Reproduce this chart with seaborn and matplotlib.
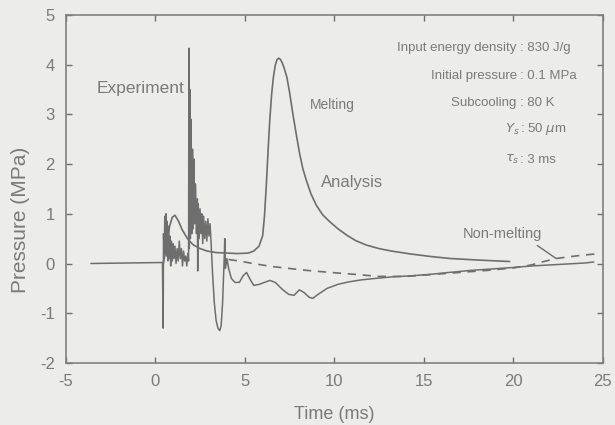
import matplotlib
matplotlib.use("Agg")
import matplotlib.pyplot as plt
import seaborn as sns
import pandas as pd

# Measured pressure trace (experiment)
exp_time = [-3.6, 0.40, 0.44, 0.46, 0.50, 0.53, 0.56, 0.60, 0.63, 0.66, 0.70, 0.74,
            0.78, 0.82, 0.86, 0.90, 0.95, 1.00, 1.05, 1.10, 1.16, 1.22, 1.28, 1.34,
            1.40, 1.46, 1.52, 1.58, 1.64, 1.70, 1.76, 1.82, 1.86, 1.88, 1.90, 1.93,
            1.96, 2.00, 2.04, 2.08, 2.12, 2.16, 2.20, 2.25, 2.30, 2.35, 2.37, 2.40,
            2.45, 2.50, 2.55, 2.60, 2.65, 2.70, 2.76, 2.82, 2.88, 2.94, 3.00, 3.06,
            3.12, 3.20, 3.30, 3.40, 3.50, 3.60, 3.68, 3.76, 3.82, 3.86, 3.88, 3.92,
            4.00, 4.10, 4.25, 4.45, 4.70, 4.90, 5.10, 5.30, 5.50, 5.80, 6.10, 6.40,
            6.70, 7.10, 7.45, 7.75, 8.05, 8.30, 8.60, 8.80, 9.10, 9.60, 10.2, 10.8,
            11.5, 12.3, 13.2, 14.2, 15.3, 16.4, 17.6, 18.8, 20.0, 21.0, 22.0, 23.0,
            24.0, 24.5]
exp_pressure = [0.00, 0.02, -1.30, 0.60, 0.10, 0.95, 0.20, 1.00, 0.15, 0.85, 0.05, 0.75,
                0.10, 0.55, -0.05, 0.45, 0.05, 0.40, 0.10, 0.35, 0.00, 0.30, 0.05, 0.45,
                0.10, 0.30, -0.05, 0.25, 0.05, 0.15, -0.05, 0.20, 0.05, 4.33, 0.30, 3.50,
                0.50, 2.90, 0.60, 2.30, 0.70, 2.10, 0.80, 1.60, 0.60, 1.30, -0.15, 1.20,
                0.50, 1.10, 0.60, 1.00, 0.40, 0.95, 0.50, 0.85, 0.45, 0.90, 0.55, 0.80,
                0.40, -0.20, -0.80, -1.15, -1.30, -1.35, -1.25, -0.80, -0.20, 0.20, 0.50, -0.10,
                0.10, -0.10, -0.30, -0.38, -0.38, -0.25, -0.18, -0.32, -0.44, -0.42, -0.38, -0.34,
                -0.38, -0.52, -0.62, -0.64, -0.53, -0.58, -0.68, -0.70, -0.62, -0.50, -0.42, -0.37,
                -0.33, -0.30, -0.27, -0.25, -0.22, -0.18, -0.14, -0.11, -0.08, -0.05, -0.03, -0.01,
                0.01, 0.03]

# Analysis with melting
melt_time = [0.45, 0.60, 0.80, 0.95, 1.10, 1.30, 1.50, 1.80, 2.10, 2.50, 2.90, 3.40,
             4.00, 4.60, 5.20, 5.50, 5.80, 6.00, 6.10, 6.20, 6.30, 6.40, 6.50, 6.60,
             6.70, 6.80, 6.90, 7.00, 7.10, 7.20, 7.35, 7.50, 7.70, 7.90, 8.07, 8.25,
             8.46, 8.70, 9.00, 9.35, 9.75, 10.2, 10.7, 11.2, 11.8, 12.5, 13.2, 14.3,
             15.4, 16.5, 18.0, 19.8]
melt_pressure = [0.00, 0.30, 0.75, 0.93, 0.97, 0.85, 0.68, 0.50, 0.38, 0.30, 0.25, 0.22,
                 0.21, 0.20, 0.21, 0.25, 0.35, 0.56, 0.95, 1.55, 2.25, 2.90, 3.40, 3.75,
                 3.98, 4.10, 4.13, 4.10, 4.03, 3.93, 3.75, 3.45, 2.98, 2.55, 2.20, 1.90,
                 1.65, 1.40, 1.17, 0.98, 0.84, 0.70, 0.57, 0.46, 0.37, 0.30, 0.25, 0.19,
                 0.14, 0.10, 0.07, 0.04]

# Analysis without melting
nonmelt_time = [4.1, 4.7, 5.45, 6.5, 7.5, 8.5, 9.8, 11.2, 12.5, 14.0, 15.5, 17.0,
                18.5, 20.0, 21.0, 21.6, 22.4, 23.0, 23.7, 24.8]
nonmelt_pressure = [0.08, 0.05, 0.00, -0.06, -0.10, -0.14, -0.18, -0.22, -0.26, -0.26, -0.22, -0.18,
                    -0.14, -0.09, -0.03, 0.03, 0.10, 0.13, 0.16, 0.20]

# Test conditions
cond_names = ["Input energy density", "Initial pressure", "Subcooling",
              r"$Y_s$", r"$\tau_s$"]
cond_values = ["830 J/g", "0.1 MPa", "80 K", r"50 $\mu$m", "3 ms"]

x_ticks = [-5, 0, 5, 10, 15, 20, 25]
y_ticks = [-2, -1, 0, 1, 2, 3, 4, 5]

sns.set_theme(style="ticks")
plt.rcParams["font.family"] = ["Liberation Sans", "DejaVu Sans"]
plt.rcParams["mathtext.fontset"] = "dejavusans"

bg = "#ececea"
ink = "#6e6e6e"
txt = "#7a7a7a"

fig = plt.figure(figsize=(6.15, 4.25), dpi=100, facecolor=bg)
ax = fig.add_axes([0.107, 0.146, 0.873, 0.819], facecolor=bg)

df_exp = pd.DataFrame({"t": exp_time, "p": exp_pressure})
df_melt = pd.DataFrame({"t": melt_time, "p": melt_pressure})
df_non = pd.DataFrame({"t": nonmelt_time, "p": nonmelt_pressure})

sns.lineplot(data=df_exp, x="t", y="p", ax=ax, sort=False, estimator=None,
             color=ink, lw=1.1)
sns.lineplot(data=df_melt, x="t", y="p", ax=ax, sort=False, estimator=None,
             color=ink, lw=1.2)
sns.lineplot(data=df_non, x="t", y="p", ax=ax, sort=False, estimator=None,
             color=ink, lw=1.2, dashes=False, linestyle=(0, (5, 4)))

ax.set_xlim(-5, 25)
ax.set_ylim(-2, 5)
ax.set_xticks(x_ticks)
ax.set_yticks(y_ticks)
ax.set_xticklabels([str(v) for v in x_ticks])
ax.set_yticklabels([str(v) for v in y_ticks])
ax.tick_params(direction="in", length=4, width=1, colors=ink, labelcolor=txt,
               labelsize=12, top=True, right=True, pad=8)
for s in ax.spines.values():
    s.set_color("#808080")
    s.set_linewidth(1.2)

ax.set_xlabel("Time (ms)", fontsize=13, color=txt, labelpad=12)
ax.set_ylabel("Pressure (MPa)", fontsize=15, color=txt)
ax.yaxis.set_label_coords(-0.066, 0.41)

# Curve labels
ax.text(-3.27, 3.52, "Experiment", fontsize=12.5, color=txt, va="center")
ax.text(8.63, 3.18, "Melting", fontsize=10, color=txt, va="center")
ax.text(9.25, 1.63, "Analysis", fontsize=12, color=txt, va="center")
ax.annotate("Non-melting", xy=(22.4, 0.10), xytext=(19.4, 0.60),
            fontsize=10.5, color=txt, ha="center", va="center",
            arrowprops=dict(arrowstyle="-", color=ink, lw=1.0,
                            shrinkA=2, shrinkB=0,
                            relpos=(0.85, 0.0)))

# Test conditions block, aligned on the colon
cond_y = [4.33, 3.78, 3.22, 2.70, 2.09]
for name, val, yy in zip(cond_names, cond_values, cond_y):
    ax.text(20.4, yy, name + " ", fontsize=9.5, color=txt, ha="right", va="center")
    ax.text(20.4, yy, ": " + val, fontsize=9.5, color=txt, ha="left", va="center")

fig.savefig("out.png", dpi=100, facecolor=bg)
